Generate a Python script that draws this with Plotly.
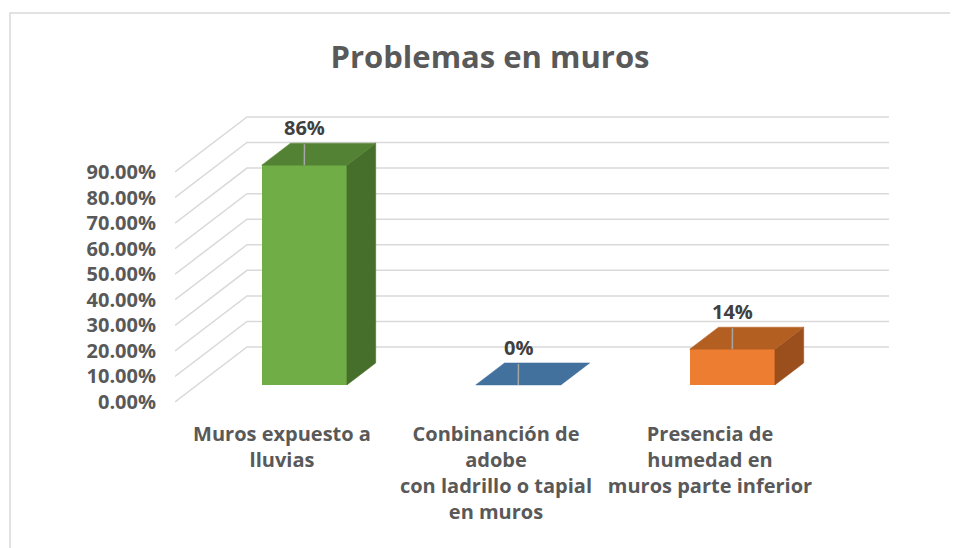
import plotly.graph_objects as go

# ---- data ----
categories = ["Muros expuesto a<br>lluvias",
              "Conbinanción de<br>adobe<br>con ladrillo o tapial<br>en muros",
              "Presencia de<br>humedad en<br>muros parte inferior"]
values = [0.86, 0.0, 0.14]
data_labels = ["86%", "0%", "14%"]
y_ticks = [0.0, 0.1, 0.2, 0.3, 0.4, 0.5, 0.6, 0.7, 0.8, 0.9]
title_text = "Problemas en muros"

front_colors = ["#70AD47", "#4472C4", "#ED7D31"]
top_colors = ["#548235", "#41719C", "#B45F22"]
side_colors = ["#466F2B", "#2F5597", "#9A4F1D"]

# ---- geometry (oblique 3D projection) ----
OFF = 8          # page body margin
W, H = 950, 540
ml, mr, mt, mb = 175 - OFF, 68, 100 - OFF, 128
PX_X = 214.0     # px per category
PX_Y = 255.6     # px per unit value
DX = 72 / PX_X   # full depth offset in category units
DY = 55 / PX_Y   # full depth offset in value units
Z_F, Z_B = 0.31, 0.71
HW = 0.199

xr0 = -0.5
xr1 = xr0 + (W - ml - mr) / PX_X
y_top = (402 - 100) / PX_Y
y_bot = y_top - (H - mt - mb) / PX_Y


def P(x, v, z):
    return x + z * DX, v + z * DY


fig = go.Figure()
grid_col = "#D9D9D9"

# back wall gridlines and left wall lines (below traces)
for t in y_ticks:
    pts = [P(xr0, t, 0), P(xr0, t, 1), P(2.5, t, 1)]
    path = "M {} {} L {} {} L {} {}".format(pts[0][0], pts[0][1], pts[1][0], pts[1][1],
                                            pts[2][0], pts[2][1])
    fig.add_shape(type="path", path=path, xref="x", yref="y", layer="below",
                  line=dict(color=grid_col, width=1.5))

# front faces as real bars
fx = [i + Z_F * DX for i in range(len(values))]
fig.add_trace(go.Bar(x=fx, y=values, base=[Z_F * DY] * len(values), width=2 * HW,
                     marker=dict(color=front_colors, line=dict(width=0)),
                     hoverinfo="skip", showlegend=False))

# bars: side and top faces
for i, v in enumerate(values):
    x0, x1 = i - HW, i + HW
    side = [P(x1, 0, Z_F), P(x1, 0, Z_B), P(x1, v, Z_B), P(x1, v, Z_F)]
    if v > 0:
        fig.add_trace(go.Scatter(x=[p[0] for p in side] + [side[0][0]],
                                 y=[p[1] for p in side] + [side[0][1]],
                                 fill="toself", fillcolor=side_colors[i], mode="lines",
                                 line=dict(color=side_colors[i], width=0.5),
                                 hoverinfo="skip", showlegend=False))
    top = [P(x0, v, Z_F), P(x1, v, Z_F), P(x1, v, Z_B), P(x0, v, Z_B)]
    fig.add_trace(go.Scatter(x=[p[0] for p in top] + [top[0][0]],
                             y=[p[1] for p in top] + [top[0][1]],
                             fill="toself", fillcolor=top_colors[i], mode="lines",
                             line=dict(color=top_colors[i], width=0.5),
                             hoverinfo="skip", showlegend=False))

# data labels with leader lines
lab_off_y = 17 / PX_Y
for i, v in enumerate(values):
    lx = i + 0.105
    ly = v + DY
    fx_i, fy_i = P(i, v, Z_F)
    fig.add_trace(go.Scatter(x=[lx, fx_i], y=[ly - lab_off_y, fy_i], mode="lines",
                             line=dict(color="#A6A6A6", width=1.5),
                             hoverinfo="skip", showlegend=False))
    fig.add_annotation(x=lx, y=ly, text=data_labels[i], showarrow=False,
                       font=dict(family="Open Sans", size=20, color="#404040", weight="bold"),
                       xanchor="center", yanchor="middle")

# chart border
pw, ph = W - ml - mr, H - mt - mb
bx0 = (10 - OFF - ml) / pw
bx1 = (W + 5 - ml) / pw
by1 = ((H - mb) - (13 - OFF)) / ph
by0 = ((H - mb) - (H + 5)) / ph
fig.add_shape(type="rect", xref="paper", yref="paper", x0=bx0, x1=bx1, y0=by0, y1=by1,
              line=dict(color="#D9D9D9", width=1.5), fillcolor="rgba(0,0,0,0)", layer="below")

fig.update_layout(
    width=W, height=H,
    margin=dict(l=ml, r=mr, t=mt, b=mb),
    paper_bgcolor="white", plot_bgcolor="white",
    title=dict(text=title_text, x=(490 - OFF) / W, xref="container", xanchor="center",
               y=1 - (57 - OFF) / H, yref="container", yanchor="middle",
               font=dict(family="Open Sans", size=31, color="#595959", weight="bold")),
    xaxis=dict(range=[xr0, xr1], tickvals=[0, 1, 2], ticktext=categories,
               showgrid=False, zeroline=False, showline=False, ticks="",
               tickfont=dict(family="Open Sans", size=20, color="#595959", weight="bold")),
    yaxis=dict(range=[y_bot, y_top], tickvals=y_ticks, tickformat=".2%",
               showgrid=False, zeroline=False, showline=False, ticks="",
               ticklabelstandoff=18,
               tickfont=dict(family="Open Sans", size=20, color="#595959", weight="bold")),
    bargap=0,
)

fig.write_html("out.html")
